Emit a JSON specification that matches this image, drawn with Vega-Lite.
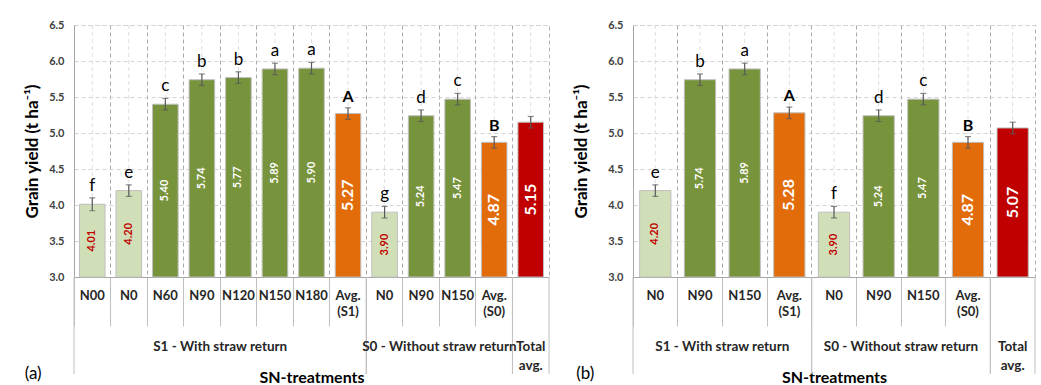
{
  "$schema": "https://vega.github.io/schema/vega-lite/v6.json",
  "padding": {"left": 23, "top": 18, "right": 0, "bottom": 0},
  "background": "white",
  "config": {
    "font": "Lato",
    "view": {"stroke": "#b0b0b0", "strokeDash": [4, 3]},
    "axis": {"labelFont": "Lato", "titleFont": "Lato", "labelFontWeight": "bold", "titleFontWeight": "bold", "titleColor": "#000000"}
  },
  "datasets": {
    "a": [
      {"group": "S1", "treatment": "N00", "yield": 4.01, "err": 0.09, "letter": "f", "kind": "base"},
      {"group": "S1", "treatment": "N0", "yield": 4.20, "err": 0.08, "letter": "e", "kind": "base"},
      {"group": "S1", "treatment": "N60", "yield": 5.40, "err": 0.08, "letter": "c", "kind": "N"},
      {"group": "S1", "treatment": "N90", "yield": 5.74, "err": 0.08, "letter": "b", "kind": "N"},
      {"group": "S1", "treatment": "N120", "yield": 5.77, "err": 0.08, "letter": "b", "kind": "N"},
      {"group": "S1", "treatment": "N150", "yield": 5.89, "err": 0.08, "letter": "a", "kind": "N"},
      {"group": "S1", "treatment": "N180", "yield": 5.90, "err": 0.08, "letter": "a", "kind": "N"},
      {"group": "S1", "treatment": "Avg.\n(S1)", "yield": 5.27, "err": 0.08, "letter": "A", "kind": "avg"},
      {"group": "S0", "treatment": "N0", "yield": 3.90, "err": 0.08, "letter": "g", "kind": "base"},
      {"group": "S0", "treatment": "N90", "yield": 5.24, "err": 0.08, "letter": "d", "kind": "N"},
      {"group": "S0", "treatment": "N150", "yield": 5.47, "err": 0.08, "letter": "c", "kind": "N"},
      {"group": "S0", "treatment": "Avg.\n(S0)", "yield": 4.87, "err": 0.08, "letter": "B", "kind": "avg"},
      {"group": "T", "treatment": "", "yield": 5.15, "err": 0.08, "letter": "", "kind": "total"}
    ],
    "b": [
      {"group": "S1", "treatment": "N0", "yield": 4.20, "err": 0.08, "letter": "e", "kind": "base"},
      {"group": "S1", "treatment": "N90", "yield": 5.74, "err": 0.08, "letter": "b", "kind": "N"},
      {"group": "S1", "treatment": "N150", "yield": 5.89, "err": 0.08, "letter": "a", "kind": "N"},
      {"group": "S1", "treatment": "Avg.\n(S1)", "yield": 5.28, "err": 0.08, "letter": "A", "kind": "avg"},
      {"group": "S0", "treatment": "N0", "yield": 3.90, "err": 0.08, "letter": "f", "kind": "base"},
      {"group": "S0", "treatment": "N90", "yield": 5.24, "err": 0.08, "letter": "d", "kind": "N"},
      {"group": "S0", "treatment": "N150", "yield": 5.47, "err": 0.08, "letter": "c", "kind": "N"},
      {"group": "S0", "treatment": "Avg.\n(S0)", "yield": 4.87, "err": 0.08, "letter": "B", "kind": "avg"},
      {"group": "T", "treatment": "", "yield": 5.07, "err": 0.08, "letter": "", "kind": "total"}
    ],
    "ga": [
      {"label": "S1 - With straw return", "n": 8},
      {"label": "S0 - Without straw return", "n": 4},
      {"label": "Total\navg.", "n": 1}
    ],
    "gb": [
      {"label": "S1 - With straw return", "n": 4},
      {"label": "S0 - Without straw return", "n": 4},
      {"label": "Total\navg.", "n": 1}
    ]
  },
  "spacing": 22,
  "hconcat": [
    {
      "spacing": 0,
      "bounds": "flush",
      "vconcat": [
        {
          "width": 475,
          "height": 252,
          "data": {"name": "a"},
          "transform": [
            {"calculate": "datum.group + '|' + datum.treatment", "as": "key"},
            {"calculate": "(datum.yield + 3) / 2", "as": "mid"},
            {"calculate": "datum.yield - datum.err", "as": "lo"},
            {"calculate": "datum.yield + datum.err", "as": "hi"}
          ],
          "encoding": {
            "x": {
              "field": "key", "type": "nominal", "sort": null,
              "scale": {"paddingInner": 0, "paddingOuter": 0},
              "axis": {
                "title": null, "bandPosition": 0, "labelOffset": 0,
                "labelExpr": "split(split(datum.label, '|')[1], '\\n')",
                "labelFontSize": 13, "labelColor": "#262626", "labelPadding": -37, "labelLineHeight": 16,
                "labelBaseline": "top", "labelAngle": 0, "labelOverlap": false, "labelBound": false,
                "tickSize": 49, "tickColor": "#c0c0c0", "domainColor": "#a6a6a6",
                "grid": true, "gridColor": "#a8a8a8", "gridDash": [4, 3]
              }
            }
          },
          "layer": [
            {
              "mark": {"type": "rule", "color": "#dedede", "strokeDash": [4, 3]},
              "encoding": {}
            },
            {
              "mark": {"type": "bar", "width": {"band": 0.7}, "stroke": "#bfbfbf", "strokeWidth": 1},
              "encoding": {
                "y": {
                  "field": "yield", "type": "quantitative", "title": "Grain yield (t ha⁻¹)",
                  "scale": {"domain": [3, 6.5], "zero": false, "nice": false},
                  "axis": {"values": [3, 3.5, 4, 4.5, 5, 5.5, 6, 6.5], "format": ".1f", "labelFontSize": 11, "labelColor": "#404040", "labelPadding": 10, "labelOverlap": false, "ticks": false, "domainColor": "#a6a6a6", "grid": true, "gridColor": "#d4d4d4", "gridDash": [4, 3], "titleFontSize": 17, "titlePadding": 7}
                },
                "y2": {"datum": 3},
                "color": {"field": "kind", "type": "nominal", "legend": null, "scale": {"domain": ["base", "N", "avg", "total"], "range": ["#d1dfb8", "#77933c", "#e36c0a", "#c00000"]}}
              }
            },
            {
              "mark": {"type": "rule", "color": "#595959", "strokeWidth": 1.2},
              "encoding": {"y": {"field": "lo", "type": "quantitative", "title": "Grain yield (t ha⁻¹)", "axis": {"values": [3, 3.5, 4, 4.5, 5, 5.5, 6, 6.5], "format": ".1f", "labelFontSize": 11, "labelColor": "#404040", "labelPadding": 10, "labelOverlap": false, "ticks": false, "domainColor": "#a6a6a6", "grid": true, "gridColor": "#d4d4d4", "gridDash": [4, 3], "titleFontSize": 17, "titlePadding": 7}}, "y2": {"field": "hi"}}
            },
            {
              "mark": {"type": "tick", "color": "#595959", "size": 6, "thickness": 1.2},
              "encoding": {"y": {"field": "lo", "type": "quantitative", "title": "Grain yield (t ha⁻¹)", "axis": {"values": [3, 3.5, 4, 4.5, 5, 5.5, 6, 6.5], "format": ".1f", "labelFontSize": 11, "labelColor": "#404040", "labelPadding": 10, "labelOverlap": false, "ticks": false, "domainColor": "#a6a6a6", "grid": true, "gridColor": "#d4d4d4", "gridDash": [4, 3], "titleFontSize": 17, "titlePadding": 7}}}
            },
            {
              "mark": {"type": "tick", "color": "#595959", "size": 6, "thickness": 1.2},
              "encoding": {"y": {"field": "hi", "type": "quantitative", "title": "Grain yield (t ha⁻¹)", "axis": {"values": [3, 3.5, 4, 4.5, 5, 5.5, 6, 6.5], "format": ".1f", "labelFontSize": 11, "labelColor": "#404040", "labelPadding": 10, "labelOverlap": false, "ticks": false, "domainColor": "#a6a6a6", "grid": true, "gridColor": "#d4d4d4", "gridDash": [4, 3], "titleFontSize": 17, "titlePadding": 7}}}
            },
            {
              "mark": {"type": "text", "angle": 270, "align": "center", "baseline": "middle", "fontWeight": "bold", "font": "Lato"},
              "encoding": {
                "y": {"field": "mid", "type": "quantitative", "title": "Grain yield (t ha⁻¹)", "axis": {"values": [3, 3.5, 4, 4.5, 5, 5.5, 6, 6.5], "format": ".1f", "labelFontSize": 11, "labelColor": "#404040", "labelPadding": 10, "labelOverlap": false, "ticks": false, "domainColor": "#a6a6a6", "grid": true, "gridColor": "#d4d4d4", "gridDash": [4, 3], "titleFontSize": 17, "titlePadding": 7}},
                "text": {"field": "yield", "type": "quantitative", "format": ".2f"},
                "color": {"condition": {"test": "datum.kind == 'base'", "value": "#c00000"}, "value": "#ffffff"},
                "size": {"condition": {"test": "datum.kind == 'avg' || datum.kind == 'total'", "value": 16}, "value": 11}
              }
            },
            {
              "transform": [{"filter": "datum.letter != '' && datum.kind != 'avg'"}],
              "mark": {"type": "text", "baseline": "bottom", "dy": -3, "fontSize": 17, "font": "Lato", "color": "#000000"},
              "encoding": {"y": {"field": "hi", "type": "quantitative", "title": "Grain yield (t ha⁻¹)", "axis": {"values": [3, 3.5, 4, 4.5, 5, 5.5, 6, 6.5], "format": ".1f", "labelFontSize": 11, "labelColor": "#404040", "labelPadding": 10, "labelOverlap": false, "ticks": false, "domainColor": "#a6a6a6", "grid": true, "gridColor": "#d4d4d4", "gridDash": [4, 3], "titleFontSize": 17, "titlePadding": 7}}, "text": {"field": "letter"}}
            },
            {
              "transform": [{"filter": "datum.kind == 'avg'"}],
              "mark": {"type": "text", "baseline": "bottom", "dy": -3, "fontSize": 16, "fontWeight": "bold", "font": "Lato", "color": "#000000"},
              "encoding": {"y": {"field": "hi", "type": "quantitative", "title": "Grain yield (t ha⁻¹)", "axis": {"values": [3, 3.5, 4, 4.5, 5, 5.5, 6, 6.5], "format": ".1f", "labelFontSize": 11, "labelColor": "#404040", "labelPadding": 10, "labelOverlap": false, "ticks": false, "domainColor": "#a6a6a6", "grid": true, "gridColor": "#d4d4d4", "gridDash": [4, 3], "titleFontSize": 17, "titlePadding": 7}}, "text": {"field": "letter"}}
            }
          ]
        },
        {
          "width": 475,
          "height": 97,
          "data": {"name": "ga"},
          "view": {"stroke": null},
          "title": {"text": "(a)", "orient": "left", "anchor": "start", "angle": 0, "align": "right", "baseline": "top", "dy": -19, "offset": 15, "fontSize": 17, "fontWeight": "normal", "font": "Lato", "color": "#000000"},
          "transform": [
            {"window": [{"op": "sum", "field": "n", "as": "end"}], "ignorePeers": true},
            {"calculate": "datum.end - datum.n", "as": "start"},
            {"calculate": "datum.end - datum.n / 2", "as": "center"}
          ],
          "layer": [
            {
              "mark": {"type": "rule", "color": "#c0c0c0"},
              "encoding": {"x": {"field": "start", "type": "quantitative", "title": "SN-treatments", "scale": {"nice": false, "zero": true}, "axis": {"labels": false, "ticks": false, "domain": false, "grid": false, "titleFontSize": 16, "titlePadding": -5, "titleColor": "#000000"}}}
            },
            {
              "mark": {"type": "rule", "color": "#c0c0c0"},
              "encoding": {"x": {"field": "end", "type": "quantitative", "title": "SN-treatments", "axis": {"labels": false, "ticks": false, "domain": false, "grid": false, "titleFontSize": 16, "titlePadding": -5, "titleColor": "#000000"}}}
            },
            {
              "mark": {"type": "text", "baseline": "top", "dy": 14.5, "lineBreak": "\n", "lineHeight": 19, "fontSize": 13.5, "fontWeight": "bold", "font": "Lato", "color": "#262626"},
              "encoding": {"x": {"field": "center", "type": "quantitative", "title": "SN-treatments", "axis": {"labels": false, "ticks": false, "domain": false, "grid": false, "titleFontSize": 16, "titlePadding": -5, "titleColor": "#000000"}}, "text": {"field": "label"}}
            }
          ]
        }
      ]
    },
    {
      "spacing": 0,
      "bounds": "flush",
      "vconcat": [
        {
          "width": 402,
          "height": 252,
          "data": {"name": "b"},
          "transform": [
            {"calculate": "datum.group + '|' + datum.treatment", "as": "key"},
            {"calculate": "(datum.yield + 3) / 2", "as": "mid"},
            {"calculate": "datum.yield - datum.err", "as": "lo"},
            {"calculate": "datum.yield + datum.err", "as": "hi"}
          ],
          "encoding": {
            "x": {
              "field": "key", "type": "nominal", "sort": null,
              "scale": {"paddingInner": 0, "paddingOuter": 0},
              "axis": {
                "title": null, "bandPosition": 0, "labelOffset": 0,
                "labelExpr": "split(split(datum.label, '|')[1], '\\n')",
                "labelFontSize": 13, "labelColor": "#262626", "labelPadding": -37, "labelLineHeight": 16,
                "labelBaseline": "top", "labelAngle": 0, "labelOverlap": false, "labelBound": false,
                "tickSize": 49, "tickColor": "#c0c0c0", "domainColor": "#a6a6a6",
                "grid": true, "gridColor": "#a8a8a8", "gridDash": [4, 3]
              }
            }
          },
          "layer": [
            {
              "mark": {"type": "rule", "color": "#dedede", "strokeDash": [4, 3]},
              "encoding": {}
            },
            {
              "mark": {"type": "bar", "width": {"band": 0.7}, "stroke": "#bfbfbf", "strokeWidth": 1},
              "encoding": {
                "y": {
                  "field": "yield", "type": "quantitative", "title": "Grain yield (t ha⁻¹)",
                  "scale": {"domain": [3, 6.5], "zero": false, "nice": false},
                  "axis": {"values": [3, 3.5, 4, 4.5, 5, 5.5, 6, 6.5], "format": ".1f", "labelFontSize": 11, "labelColor": "#404040", "labelPadding": 10, "labelOverlap": false, "ticks": false, "domainColor": "#a6a6a6", "grid": true, "gridColor": "#d4d4d4", "gridDash": [4, 3], "titleFontSize": 17, "titlePadding": 17}
                },
                "y2": {"datum": 3},
                "color": {"field": "kind", "type": "nominal", "legend": null, "scale": {"domain": ["base", "N", "avg", "total"], "range": ["#d1dfb8", "#77933c", "#e36c0a", "#c00000"]}}
              }
            },
            {
              "mark": {"type": "rule", "color": "#595959", "strokeWidth": 1.2},
              "encoding": {"y": {"field": "lo", "type": "quantitative", "title": "Grain yield (t ha⁻¹)", "axis": {"values": [3, 3.5, 4, 4.5, 5, 5.5, 6, 6.5], "format": ".1f", "labelFontSize": 11, "labelColor": "#404040", "labelPadding": 10, "labelOverlap": false, "ticks": false, "domainColor": "#a6a6a6", "grid": true, "gridColor": "#d4d4d4", "gridDash": [4, 3], "titleFontSize": 17, "titlePadding": 17}}, "y2": {"field": "hi"}}
            },
            {
              "mark": {"type": "tick", "color": "#595959", "size": 6, "thickness": 1.2},
              "encoding": {"y": {"field": "lo", "type": "quantitative", "title": "Grain yield (t ha⁻¹)", "axis": {"values": [3, 3.5, 4, 4.5, 5, 5.5, 6, 6.5], "format": ".1f", "labelFontSize": 11, "labelColor": "#404040", "labelPadding": 10, "labelOverlap": false, "ticks": false, "domainColor": "#a6a6a6", "grid": true, "gridColor": "#d4d4d4", "gridDash": [4, 3], "titleFontSize": 17, "titlePadding": 17}}}
            },
            {
              "mark": {"type": "tick", "color": "#595959", "size": 6, "thickness": 1.2},
              "encoding": {"y": {"field": "hi", "type": "quantitative", "title": "Grain yield (t ha⁻¹)", "axis": {"values": [3, 3.5, 4, 4.5, 5, 5.5, 6, 6.5], "format": ".1f", "labelFontSize": 11, "labelColor": "#404040", "labelPadding": 10, "labelOverlap": false, "ticks": false, "domainColor": "#a6a6a6", "grid": true, "gridColor": "#d4d4d4", "gridDash": [4, 3], "titleFontSize": 17, "titlePadding": 17}}}
            },
            {
              "mark": {"type": "text", "angle": 270, "align": "center", "baseline": "middle", "fontWeight": "bold", "font": "Lato"},
              "encoding": {
                "y": {"field": "mid", "type": "quantitative", "title": "Grain yield (t ha⁻¹)", "axis": {"values": [3, 3.5, 4, 4.5, 5, 5.5, 6, 6.5], "format": ".1f", "labelFontSize": 11, "labelColor": "#404040", "labelPadding": 10, "labelOverlap": false, "ticks": false, "domainColor": "#a6a6a6", "grid": true, "gridColor": "#d4d4d4", "gridDash": [4, 3], "titleFontSize": 17, "titlePadding": 17}},
                "text": {"field": "yield", "type": "quantitative", "format": ".2f"},
                "color": {"condition": {"test": "datum.kind == 'base'", "value": "#c00000"}, "value": "#ffffff"},
                "size": {"condition": {"test": "datum.kind == 'avg' || datum.kind == 'total'", "value": 16}, "value": 11}
              }
            },
            {
              "transform": [{"filter": "datum.letter != '' && datum.kind != 'avg'"}],
              "mark": {"type": "text", "baseline": "bottom", "dy": -3, "fontSize": 17, "font": "Lato", "color": "#000000"},
              "encoding": {"y": {"field": "hi", "type": "quantitative", "title": "Grain yield (t ha⁻¹)", "axis": {"values": [3, 3.5, 4, 4.5, 5, 5.5, 6, 6.5], "format": ".1f", "labelFontSize": 11, "labelColor": "#404040", "labelPadding": 10, "labelOverlap": false, "ticks": false, "domainColor": "#a6a6a6", "grid": true, "gridColor": "#d4d4d4", "gridDash": [4, 3], "titleFontSize": 17, "titlePadding": 17}}, "text": {"field": "letter"}}
            },
            {
              "transform": [{"filter": "datum.kind == 'avg'"}],
              "mark": {"type": "text", "baseline": "bottom", "dy": -3, "fontSize": 16, "fontWeight": "bold", "font": "Lato", "color": "#000000"},
              "encoding": {"y": {"field": "hi", "type": "quantitative", "title": "Grain yield (t ha⁻¹)", "axis": {"values": [3, 3.5, 4, 4.5, 5, 5.5, 6, 6.5], "format": ".1f", "labelFontSize": 11, "labelColor": "#404040", "labelPadding": 10, "labelOverlap": false, "ticks": false, "domainColor": "#a6a6a6", "grid": true, "gridColor": "#d4d4d4", "gridDash": [4, 3], "titleFontSize": 17, "titlePadding": 17}}, "text": {"field": "letter"}}
            }
          ]
        },
        {
          "width": 402,
          "height": 97,
          "data": {"name": "gb"},
          "view": {"stroke": null},
          "title": {"text": "(b)", "orient": "left", "anchor": "start", "angle": 0, "align": "right", "baseline": "top", "dy": -19, "offset": 20, "fontSize": 17, "fontWeight": "normal", "font": "Lato", "color": "#000000"},
          "transform": [
            {"window": [{"op": "sum", "field": "n", "as": "end"}], "ignorePeers": true},
            {"calculate": "datum.end - datum.n", "as": "start"},
            {"calculate": "datum.end - datum.n / 2", "as": "center"}
          ],
          "layer": [
            {
              "mark": {"type": "rule", "color": "#c0c0c0"},
              "encoding": {"x": {"field": "start", "type": "quantitative", "title": "SN-treatments", "scale": {"nice": false, "zero": true}, "axis": {"labels": false, "ticks": false, "domain": false, "grid": false, "titleFontSize": 16, "titlePadding": -5, "titleColor": "#000000"}}}
            },
            {
              "mark": {"type": "rule", "color": "#c0c0c0"},
              "encoding": {"x": {"field": "end", "type": "quantitative", "title": "SN-treatments", "axis": {"labels": false, "ticks": false, "domain": false, "grid": false, "titleFontSize": 16, "titlePadding": -5, "titleColor": "#000000"}}}
            },
            {
              "mark": {"type": "text", "baseline": "top", "dy": 14.5, "lineBreak": "\n", "lineHeight": 19, "fontSize": 13.5, "fontWeight": "bold", "font": "Lato", "color": "#262626"},
              "encoding": {"x": {"field": "center", "type": "quantitative", "title": "SN-treatments", "axis": {"labels": false, "ticks": false, "domain": false, "grid": false, "titleFontSize": 16, "titlePadding": -5, "titleColor": "#000000"}}, "text": {"field": "label"}}
            }
          ]
        }
      ]
    }
  ]
}
